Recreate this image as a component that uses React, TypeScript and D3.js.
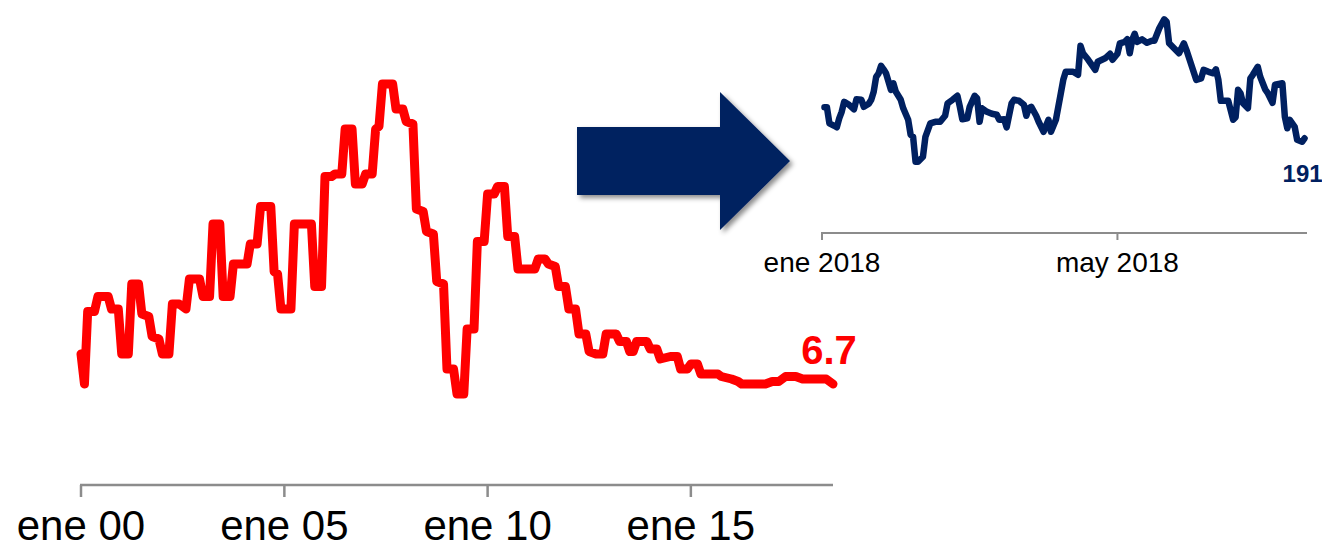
import React from "react";
import * as d3 from "d3";

// Long-run monthly series, Jan 2000 – Jul 2018 (turning points of the line)
const longDates: string[] = [
  "2000-01","2000-02","2000-03","2000-05","2000-06","2000-09","2000-10","2000-12",
  "2001-01","2001-03","2001-04","2001-06","2001-07","2001-09","2001-10","2001-12",
  "2002-01","2002-03","2002-04","2002-06","2002-08","2002-09","2002-12",
  "2003-01","2003-03","2003-04","2003-06","2003-07","2003-09","2003-10",
  "2004-02","2004-03","2004-05","2004-06","2004-09","2004-10","2004-11","2004-12",
  "2005-03","2005-04","2005-09","2005-10","2005-12",
  "2006-01","2006-03","2006-04","2006-06","2006-07","2006-09","2006-10","2006-12",
  "2007-01","2007-03","2007-04","2007-05","2007-06","2007-09","2007-10","2007-12",
  "2008-01","2008-03","2008-04","2008-06","2008-07","2008-09","2008-10","2008-12",
  "2009-01","2009-03","2009-04","2009-06","2009-07","2009-09","2009-10","2009-12",
  "2010-01","2010-03","2010-04","2010-06","2010-07","2010-09","2010-10",
  "2011-03","2011-04","2011-06","2011-07","2011-09","2011-10","2011-12",
  "2012-01","2012-03","2012-04","2012-06","2012-07","2012-09","2012-11","2012-12",
  "2013-03","2013-04","2013-06","2013-07","2013-08","2013-09","2013-12",
  "2014-01","2014-03","2014-04","2014-07","2014-09","2014-10","2014-12",
  "2015-01","2015-03","2015-04","2015-09","2015-10",
  "2016-01","2016-03","2016-04","2016-11",
  "2017-01","2017-03","2017-05","2017-08","2017-10",
  "2018-05","2018-07",
];
const longValues: number[] = [
  7.9, 6.7, 9.6, 9.6, 10.2, 10.2, 9.7, 9.7,
  7.9, 7.9, 10.7, 10.7, 9.5, 9.4, 8.6, 8.5,
  7.9, 7.9, 9.9, 9.9, 9.7, 10.9, 10.9,
  10.2, 10.2, 13.1, 13.1, 10.2, 10.2, 11.5,
  11.5, 12.3, 12.3, 13.8, 13.8, 11.2, 11.1, 9.7,
  9.7, 13.1, 13.1, 10.6, 10.6,
  15.0, 15.0, 15.1, 15.1, 16.9, 16.9, 14.7, 14.7,
  15.1, 15.1, 16.9, 17.0, 18.7, 18.7, 17.7, 17.7,
  17.2, 17.1, 13.7, 13.6, 12.8, 12.7, 10.8, 10.7,
  7.3, 7.3, 6.3, 6.3, 8.9, 8.9, 12.4, 12.4,
  14.3, 14.3, 14.6, 14.6, 12.6, 12.6, 11.3,
  11.3, 11.7, 11.7, 11.5, 11.4, 10.6, 10.6,
  9.7, 9.7, 8.7, 8.7, 8.0, 7.9, 7.9, 8.7,
  8.7, 8.4, 8.4, 8.0, 8.0, 8.4, 8.4,
  8.1, 8.1, 7.7, 7.8, 7.8, 7.3, 7.3,
  7.5, 7.5, 7.1, 7.1, 7.0,
  6.9, 6.8, 6.7, 6.7,
  6.8, 6.8, 7.0, 7.0, 6.9,
  6.9, 6.7,
];

// Daily series, Jan – Jul 2018
const recentDates: string[] = [
  "2018-01-02","2018-01-03","2018-01-04","2018-01-06","2018-01-07","2018-01-08","2018-01-09","2018-01-10",
  "2018-01-12","2018-01-14","2018-01-15","2018-01-17","2018-01-18","2018-01-20","2018-01-21","2018-01-22",
  "2018-01-23","2018-01-24","2018-01-25","2018-01-26","2018-01-27","2018-01-29","2018-01-30","2018-01-31",
  "2018-02-02","2018-02-03","2018-02-05","2018-02-06","2018-02-07","2018-02-08","2018-02-09","2018-02-11",
  "2018-02-12","2018-02-14","2018-02-16","2018-02-18","2018-02-20","2018-02-21","2018-02-23","2018-02-25",
  "2018-02-26","2018-02-27","2018-03-01","2018-03-02","2018-03-04","2018-03-05","2018-03-06","2018-03-07",
  "2018-03-09","2018-03-11","2018-03-13","2018-03-14","2018-03-16","2018-03-17","2018-03-19","2018-03-20",
  "2018-03-22","2018-03-24","2018-03-25","2018-03-26","2018-03-27","2018-03-29","2018-03-30","2018-04-01",
  "2018-04-03","2018-04-04","2018-04-06","2018-04-08","2018-04-09","2018-04-10","2018-04-13","2018-04-15",
  "2018-04-16","2018-04-17","2018-04-19","2018-04-22","2018-04-23","2018-04-26","2018-04-28","2018-04-29",
  "2018-05-01","2018-05-02","2018-05-04","2018-05-05","2018-05-06","2018-05-07","2018-05-08","2018-05-09",
  "2018-05-11","2018-05-13","2018-05-15","2018-05-16","2018-05-18","2018-05-20","2018-05-21","2018-05-22",
  "2018-05-24","2018-05-26","2018-05-28","2018-05-29","2018-05-31","2018-06-02","2018-06-04","2018-06-05",
  "2018-06-07","2018-06-09","2018-06-10","2018-06-11","2018-06-12","2018-06-15","2018-06-17","2018-06-18",
  "2018-06-19","2018-06-20","2018-06-21","2018-06-23","2018-06-24","2018-06-25","2018-06-27","2018-06-28",
  "2018-06-30","2018-07-01","2018-07-03","2018-07-04","2018-07-07","2018-07-08","2018-07-09","2018-07-10",
  "2018-07-12","2018-07-13","2018-07-15","2018-07-16",
];
const recentValues: number[] = [
  197.6, 197.6, 194.4, 193.9, 193.6, 195.4, 196.7, 198.7,
  198.1, 197.2, 199.2, 199.1, 197.7, 198.3, 199.1, 200.7,
  203.7, 204.4, 205.9, 205.2, 204.4, 201.1, 202.4, 200.7,
  199.1, 197.4, 195.1, 192.1, 191.7, 186.7, 186.7, 187.7,
  191.7, 194.4, 194.7, 194.7, 195.9, 198.4, 199.1, 199.9,
  197.7, 195.2, 195.4, 197.7, 199.9, 199.4, 194.7, 197.4,
  196.7, 196.3, 196.1, 195.1, 195.2, 193.6, 198.4, 199.1,
  198.9, 198.1, 195.9, 197.4, 197.7, 195.9, 194.7, 192.7,
  195.1, 192.7, 195.1, 200.4, 203.1, 204.7, 204.7, 204.1,
  209.9, 208.4, 207.2, 205.1, 206.7, 207.4, 208.3, 207.1,
  208.3, 210.4, 210.7, 211.2, 208.4, 211.1, 212.3, 210.7,
  211.2, 210.5, 210.9, 210.9, 213.4, 215.2, 214.7, 210.4,
  209.4, 208.4, 210.4, 209.1, 206.1, 203.1, 203.4, 205.1,
  204.7, 204.4, 205.2, 203.1, 198.9, 198.9, 195.1, 195.6,
  201.1, 200.4, 198.4, 197.4, 203.4, 204.1, 205.7, 203.7,
  201.2, 200.5, 198.5, 202.1, 202.4, 195.7, 193.4, 195.1,
  193.7, 191.1, 190.7, 191.4,
];

const longTicks: string[] = ["2000-01", "2005-01", "2010-01", "2015-01"];
const longTickLabels: string[] = ["ene 00", "ene 05", "ene 10", "ene 15"];
const recentTicks: string[] = ["2018-01-01", "2018-05-01"];
const recentTickLabels: string[] = ["ene 2018", "may 2018"];

const W = 1322;
const H = 543;
const RED = "#ff0000";
const NAVY = "#002060";
const AXIS = "#8c8c8c";
const FONT = "'Liberation Sans', Arial, Helvetica, sans-serif";

const parseMonth = d3.timeParse("%Y-%m")!;
const parseDay = d3.timeParse("%Y-%m-%d")!;

type Pt = { date: Date; value: number };

export default function App() {
  const longData: Pt[] = longDates.map((d, i) => ({ date: parseMonth(d)!, value: longValues[i] }));
  const recentData: Pt[] = recentDates.map((d, i) => ({ date: parseDay(d)!, value: recentValues[i] }));

  // Left panel scales
  const xL = d3.scaleTime().domain([parseMonth("2000-01")!, parseMonth("2018-07")!]).range([81, 833]);
  const yL = d3.scaleLinear().domain([6, 20]).range([401.5, 51.5]);
  const axisYL = 485;

  // Right panel scales
  const xR = d3.scaleTime().domain([parseDay("2018-01-01")!, parseDay("2018-07-17")!]).range([822, 1307]);
  const yR = d3.scaleLinear().domain([185, 220]).range([170.3, -4.7]);
  const axisYR = 233;

  const lineL = d3.line<Pt>().x((d) => xL(d.date)).y((d) => yL(d.value)).curve(d3.curveLinear);
  const lineR = d3.line<Pt>().x((d) => xR(d.date)).y((d) => yR(d.value)).curve(d3.curveLinear);

  const lastL = longData[longData.length - 1];
  const lastR = recentData[recentData.length - 1];

  // Block arrow pointing from the long-run panel to the recent panel
  const arrow = d3.path();
  arrow.moveTo(577, 127);
  arrow.lineTo(720, 127);
  arrow.lineTo(720, 92);
  arrow.lineTo(790, 161);
  arrow.lineTo(720, 230);
  arrow.lineTo(720, 195);
  arrow.lineTo(577, 195);
  arrow.closePath();

  return (
    <svg
      width={W}
      height={H}
      viewBox={`0 0 ${W} ${H}`}
      style={{ position: "absolute", left: 0, top: 0, display: "block", background: "#fff" }}
      fontFamily={FONT}
    >
      <defs>
        <filter id="arrowShadow" x="-20%" y="-20%" width="150%" height="150%">
          <feDropShadow dx="3" dy="3" stdDeviation="2.5" floodColor="#000" floodOpacity="0.45" />
        </filter>
      </defs>

      {/* Long-run panel */}
      <g>
        <path
          d={lineL(longData) ?? ""}
          fill="none"
          stroke={RED}
          strokeWidth={9}
          strokeLinejoin="round"
          strokeLinecap="round"
        />
        <text
          x={xL(lastL.date) - 4}
          y={yL(lastL.value) - 20}
          textAnchor="middle"
          fill={RED}
          fontWeight="bold"
          fontSize={40}
        >
          {lastL.value.toFixed(1)}
        </text>
        <line x1={xL.range()[0] - 1} x2={xL.range()[1]} y1={axisYL} y2={axisYL} stroke={AXIS} strokeWidth={2.5} />
        {longTicks.map((t, i) => {
          const x = xL(parseMonth(t)!);
          return (
            <g key={t}>
              <line x1={x} x2={x} y1={axisYL} y2={axisYL + 12} stroke={AXIS} strokeWidth={2.5} />
              <text x={x} y={540} textAnchor="middle" fontSize={42} fill="#000">
                {longTickLabels[i]}
              </text>
            </g>
          );
        })}
      </g>

      {/* Arrow */}
      <path d={arrow.toString()} fill={NAVY} filter="url(#arrowShadow)" />

      {/* Recent panel */}
      <g>
        <path
          d={lineR(recentData) ?? ""}
          fill="none"
          stroke={NAVY}
          strokeWidth={6.5}
          strokeLinejoin="round"
          strokeLinecap="round"
        />
        <text
          x={xR(lastR.date) - 22}
          y={yR(lastR.value) + 44}
          textAnchor="start"
          fill={NAVY}
          fontWeight="bold"
          fontSize={24}
        >
          {lastR.value.toFixed(1)}
        </text>
        <line x1={xR.range()[0] - 1} x2={xR.range()[1]} y1={axisYR} y2={axisYR} stroke={AXIS} strokeWidth={2} />
        {recentTicks.map((t, i) => {
          const x = xR(parseDay(t)!);
          return (
            <g key={t}>
              <line x1={x} x2={x} y1={axisYR} y2={axisYR + 7} stroke={AXIS} strokeWidth={2} />
              <text x={x} y={272} textAnchor="middle" fontSize={28} fill="#000">
                {recentTickLabels[i]}
              </text>
            </g>
          );
        })}
      </g>
    </svg>
  );
}
